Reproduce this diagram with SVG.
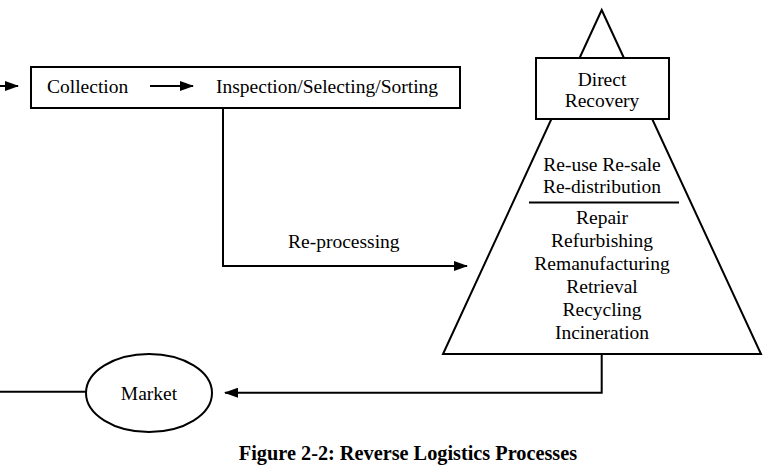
<svg xmlns="http://www.w3.org/2000/svg" width="770" height="466" viewBox="0 0 770 466">
<defs>
<marker id="arr" markerWidth="14" markerHeight="10" refX="13" refY="5" orient="auto" markerUnits="userSpaceOnUse">
<path d="M0,0 L14,5 L0,10 Z" fill="#000"/>
</marker>
<style>
text{font-family:"Liberation Serif","Times New Roman",serif;font-size:19.5px;fill:#000}
.c{text-anchor:middle}
.ln{fill:none;stroke:#000;stroke-width:2}
.cap{font-weight:bold;font-size:20.3px}
</style>
</defs>
<rect width="770" height="466" fill="#fff"/>
<g id="process-box">
<rect class="ln" x="31" y="67" width="429" height="41"/>
<text id="collection" x="47" y="93">Collection</text>
<text id="inspection" x="216" y="93">Inspection/Selecting/Sorting</text>
</g>
<g id="recovery-pyramid">
<polygon class="ln" points="601.7,10 443,354 761,354"/>
<rect x="536" y="58" width="133" height="61" fill="#fff" stroke="#000" stroke-width="2"/>
<text class="c" x="602" y="86">Direct</text>
<text class="c" x="602" y="107">Recovery</text>
<text class="c" x="602" y="171">Re-use Re-sale</text>
<text class="c" x="602" y="193">Re-distribution</text>
<line class="ln" x1="529" y1="202.5" x2="679" y2="202.5"/>
<text class="c" x="602" y="224">Repair</text>
<text class="c" x="602" y="247">Refurbishing</text>
<text class="c" x="602" y="270">Remanufacturing</text>
<text class="c" x="602" y="293">Retrieval</text>
<text class="c" x="602" y="316">Recycling</text>
<text class="c" x="602" y="338.5">Incineration</text>
</g>
<g id="market">
<ellipse class="ln" cx="149" cy="393" rx="63" ry="39"/>
<text class="c" x="149" y="400">Market</text>
</g>
<g id="connectors">
<line class="ln" x1="0" y1="86" x2="18" y2="86" marker-end="url(#arr)"/>
<line class="ln" x1="150" y1="86" x2="193" y2="86" marker-end="url(#arr)"/>
<polyline class="ln" points="223,108 223,266 467,266" marker-end="url(#arr)"/>
<text x="288" y="248">Re-processing</text>
<polyline class="ln" points="601.7,354 601.7,392.7 225,392.7" marker-end="url(#arr)"/>
<line class="ln" x1="0" y1="391.7" x2="86" y2="391.7"/>
</g>
<text class="c cap" x="408" y="460">Figure 2-2: Reverse Logistics Processes</text>
</svg>
